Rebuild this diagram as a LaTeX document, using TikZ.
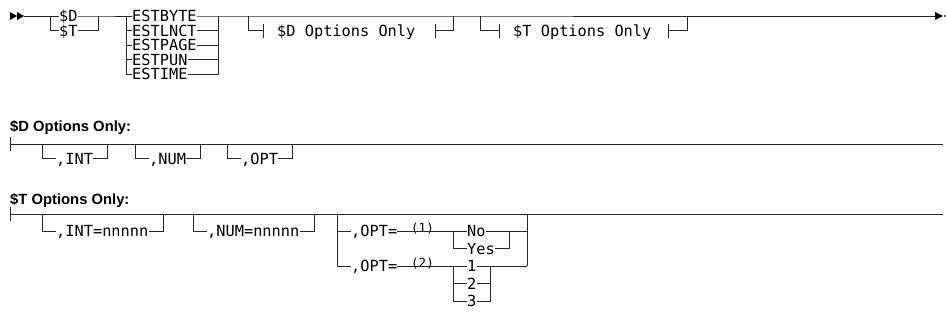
\documentclass[tikz,border=0pt]{standalone}
\usepackage{fontspec}
\newfontfamily\rrfont{DejaVu Sans Mono}
\newfontfamily\hdfont{Liberation Sans}
\begin{document}
\begin{tikzpicture}[x=1pt,y=-1pt,
  rr/.style={font=\rrfont\fontsize{15.3}{16}\selectfont, inner sep=0pt, text height=11pt, text depth=0pt, anchor=west},
  supnote/.style={font=\rrfont\fontsize{12.5}{13}\selectfont, inner sep=0pt, anchor=base west},
  hd/.style={font=\hdfont\bfseries\fontsize{14.8}{16}\selectfont, inner sep=0pt, anchor=base west},
  ln/.style={draw=black!85, line width=1pt},
  tip/.style={fill=black}]
\useasboundingbox (0,0) rectangle (946,322);
% ---------- row 1 ----------
\fill[tip] (10,12) -- (17,16) -- (10,20) -- cycle;
\fill[tip] (17,12) -- (24,16) -- (17,20) -- cycle;
\coordinate (s0) at (24,16);
\coordinate (b1) at (50,16);
\coordinate (m1) at (98,16);
\coordinate (b2) at (126,16);
\coordinate (m2) at (218,16);
\coordinate (b3) at (248,16);
\coordinate (m3) at (453,16);
\coordinate (b4) at (480,16);
\coordinate (m4) at (687,16);
\coordinate (e0) at (935,16);
\node[rr] (D) at (59,16) {\$D};
\node[rr] (T) at (59,30.5) {\$T};
\node[rr] (E1) at (132,16) {ESTBYTE};
\node[rr] (E2) at (132,30.5) {ESTLNCT};
\node[rr] (E3) at (132,45) {ESTPAGE};
\node[rr] (E4) at (132,59.5) {ESTPUN};
\node[rr] (E5) at (132,74) {ESTIME};
\node[rr] (DO) at (277,30.5) {\$D Options Only};
\node[rr] (TO) at (513,30.5) {\$T Options Only};
\coordinate (k1) at (263,30.5);
\coordinate (k2) at (435,30.5);
\coordinate (k3) at (499,30.5);
\coordinate (k4) at (668,30.5);
\draw[ln] (s0) -- (D.west);
\draw[ln] (b1) |- (T.west);
\draw[ln] (D.east) -- (m1) -- (E1.west);
\draw[ln] (T.east) -| (m1);
\draw[ln] (b2) |- (E5.west);
\foreach \n in {E2,E3,E4} {\draw[ln] (b2) |- (\n.west);}
\foreach \n in {E2,E3,E4,E5} {\draw[ln] (\n.east) -| (m2);}
\draw[ln] (E1.east) -- (m2) -- (e0);
\draw[ln] (b3) |- (k1);
\draw[ln] ([yshift=-7pt]k1) -- ([yshift=7pt]k1);
\draw[ln] ([yshift=-7pt]k2) -- ([yshift=7pt]k2);
\draw[ln] (k2) -| (m3);
\draw[ln] (b4) |- (k3);
\draw[ln] ([yshift=-7pt]k3) -- ([yshift=7pt]k3);
\draw[ln] ([yshift=-7pt]k4) -- ([yshift=7pt]k4);
\draw[ln] (k4) -| (m4);
\fill[tip] (935,12) -- (943,16) -- (935,20) -- cycle;
\fill[tip] (945,16) circle (1pt);
% ---------- $D options ----------
\node[hd] (H1) at (10,131) {\$D Options Only:};
\coordinate (p0) at (10,144);
\coordinate (p9) at (943,144);
\draw[ln] (10,137) -- (10,151);
\draw[ln] (p0) -- (p9);
\foreach \L/\t/\nm in {42/{,INT}/a1,135/{,NUM}/a2,227/{,OPT}/a3} {
  \node[rr] (\nm) at (\L+14,158.5) {\t};
  \draw[ln] (\L,144) |- (\nm.west);
  \draw[ln] (\nm.east) -| (\L+65,144);
}
% ---------- $T options ----------
\node[hd] (H2) at (10,204) {\$T Options Only:};
\coordinate (q0) at (10,214);
\coordinate (q9) at (943,214);
\draw[ln] (10,207) -- (10,221);
\draw[ln] (q0) -- (q9);
\node[rr] (c1) at (56,231.4) {,INT=nnnnn};
\draw[ln] (42,214) |- (c1.west);
\draw[ln] (c1.east) -| (163,214);
\node[rr] (c2) at (207,231.4) {,NUM=nnnnn};
\draw[ln] (193,214) |- (c2.west);
\draw[ln] (c2.east) -| (314,214);
% OPT block
\coordinate (oL) at (337,214);
\coordinate (oR) at (527,214);
\node[rr] (O1) at (351,231.4) {,OPT=};
\node[rr] (O2) at (351,266.2) {,OPT=};
\node[supnote] (n1) at (411,232.4) {(1)};
\node[supnote] (n2) at (411,267.2) {(2)};
\node[rr] (No) at (467,231.4) {No};
\node[rr] (Yes) at (467,248.8) {Yes};
\node[rr] (V1) at (467,266.2) {1};
\node[rr] (V2) at (467,283.6) {2};
\node[rr] (V3) at (467,301) {3};
\coordinate (yb) at (453,231.4);
\coordinate (ym) at (509,231.4);
\coordinate (vb) at (453,266.2);
\coordinate (vm) at (490,266.2);
\draw[ln] (oL) |- (O1.west);
\draw[ln] (oL) |- (O2.west);
\draw[ln] (O1.east) -- (No.west);
\draw[ln] (yb) |- (Yes.west);
\draw[ln] (No.east) -- (ym) -- (527,231.4);
\draw[ln] (Yes.east) -| (ym);
\draw[ln] (O2.east) -- (V1.west);
\draw[ln] (vb) |- (V2.west);
\draw[ln] (vb) |- (V3.west);
\draw[ln] (V1.east) -- (vm) -- (527,266.2);
\draw[ln] (V2.east) -| (vm);
\draw[ln] (V3.east) -| (vm);
\draw[ln] (oR) -- (527,266.2);
\end{tikzpicture}
\end{document}
